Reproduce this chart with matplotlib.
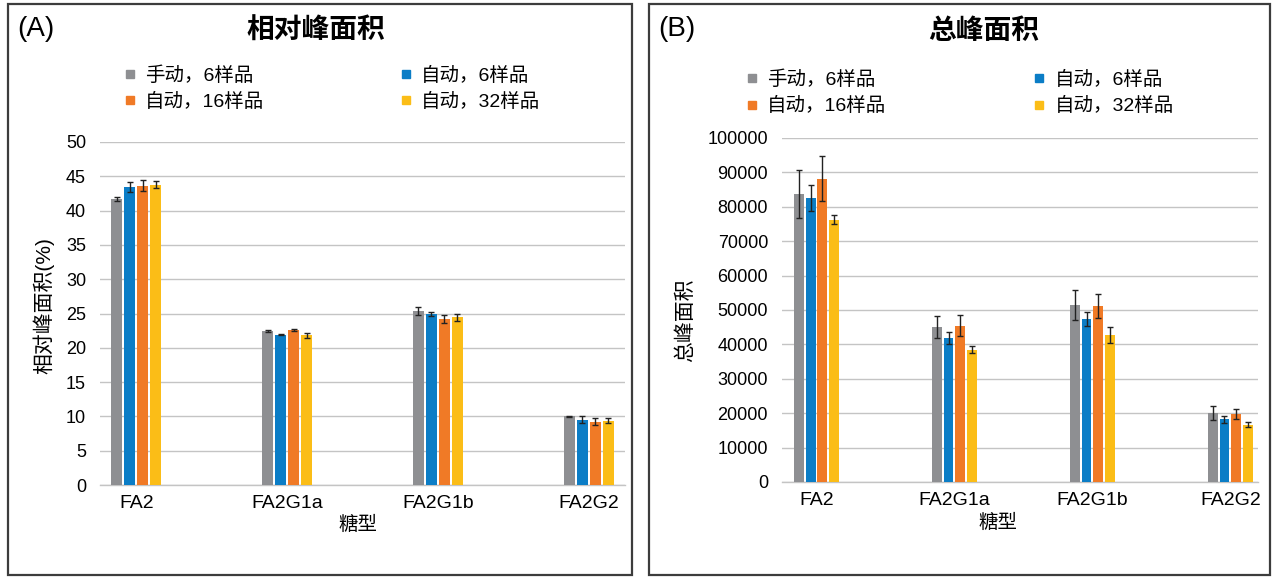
import numpy as np
import matplotlib.pyplot as plt
from matplotlib.lines import Line2D
from matplotlib.patches import Rectangle

plt.rcParams['font.family'] = ['Liberation Sans', 'Noto Sans CJK SC']
plt.rcParams['axes.unicode_minus'] = False

glycans = ['FA2', 'FA2G1a', 'FA2G1b', 'FA2G2']
series = ['手动，6样品', '自动，6样品', '自动，16样品', '自动，32样品']
colors = ['#8e8f92', '#0b7dc6', '#f07a26', '#fbbd17']

# relative peak area (%)
rel_mean = {
    '手动，6样品': [41.65, 22.45, 25.36, 10.0],
    '自动，6样品': [43.4, 21.9, 24.95, 9.5],
    '自动，16样品': [43.6, 22.6, 24.2, 9.25],
    '自动，32样品': [43.8, 21.8, 24.45, 9.4],
}
rel_err = {
    '手动，6样品': [0.3, 0.1, 0.6, 0.1],
    '自动，6样品': [0.7, 0.1, 0.3, 0.5],
    '自动，16样品': [0.8, 0.2, 0.6, 0.5],
    '自动，32样品': [0.5, 0.35, 0.5, 0.3],
}

# total peak area
tot_mean = {
    '手动，6样品': [83800, 45060, 51450, 20060],
    '自动，6样品': [82650, 41860, 47380, 18200],
    '自动，16样品': [88170, 45440, 51050, 19850],
    '自动，32样品': [76250, 38460, 42730, 16660],
}
tot_err = {
    '手动，6样品': [7000, 3200, 4250, 2050],
    '自动，6样品': [3800, 1650, 1950, 1000],
    '自动，16样品': [6600, 3100, 3500, 1500],
    '自动，32样品': [1350, 1050, 2300, 700],
}

W, H = 1276, 577
fig = plt.figure(figsize=(W / 100, H / 100), dpi=100)


def fx(px):
    return px / W


def fy(py):
    return 1 - py / H


def draw_panel(rect, means, errs, ylim, yticks, ylabel, title, tag,
               box, legend_xy, colspace, title_xy, tag_xy, ylabel_xy,
               xlabel_xy, xlim):
    x0, y0, x1, y1 = rect
    ax = fig.add_axes([fx(x0), fy(y1), fx(x1 - x0), (y1 - y0) / H])
    x = np.arange(len(glycans))
    pitch = 0.086
    for i, s in enumerate(series):
        ax.bar(x + (i - 1.5) * pitch, means[s], width=0.072, color=colors[i],
               yerr=errs[s], capsize=2.5,
               error_kw=dict(ecolor='#222222', elinewidth=1, capthick=1),
               zorder=3)
    ax.set_ylim(*ylim)
    ax.set_yticks(yticks)
    ax.set_xlim(*xlim)
    ax.set_xticks(x)
    ax.set_xticklabels(glycans, fontsize=14)
    ax.tick_params(axis='y', labelsize=13, length=0, pad=10)
    ax.tick_params(axis='x', length=0, pad=7)
    ax.grid(axis='y', color='#c4c4c4', linewidth=1, zorder=0)
    for sp in ['top', 'right', 'left']:
        ax.spines[sp].set_visible(False)
    ax.spines['bottom'].set_color('#c4c4c4')
    ax.spines['bottom'].set_linewidth(1)

    # outer frame of the panel
    bx0, by0, bx1, by1 = box
    fig.patches.append(Rectangle((fx(bx0), fy(by1)), fx(bx1 - bx0), (by1 - by0) / H,
                                 transform=fig.transFigure, fill=False,
                                 edgecolor='#3c3c3c', linewidth=1.6))

    fig.text(fx(title_xy[0]), fy(title_xy[1]), title, fontsize=20,
             fontweight='bold', ha='center', va='center')
    fig.text(fx(tag_xy[0]), fy(tag_xy[1]), tag, fontsize=20,
             ha='left', va='center')
    fig.text(fx(ylabel_xy[0]), fy(ylabel_xy[1]), ylabel, fontsize=15,
             rotation=90, ha='center', va='center')
    fig.text(fx(xlabel_xy[0]), fy(xlabel_xy[1]), '糖型', fontsize=14,
             ha='center', va='center')

    order = [0, 2, 1, 3]
    handles = [Line2D([], [], marker='s', linestyle='none', markersize=6,
                      color=colors[i]) for i in order]
    labels = [series[i] for i in order]
    fig.legend(handles, labels, ncol=2, frameon=False, fontsize=14,
               loc='center left', borderpad=0, borderaxespad=0,
               bbox_to_anchor=(fx(legend_xy[0]), fy(legend_xy[1])),
               handletextpad=0.4, handlelength=0.8, columnspacing=colspace,
               labelspacing=0.42)
    return ax


draw_panel((100, 142, 625, 485), rel_mean, rel_err, (0, 50), range(0, 51, 5),
           '相对峰面积(%)', '相对峰面积', '(A)',
           (8, 4, 632, 575), (122, 88.5), 6.85, (316, 32), (17, 29), (44, 306),
           (358, 525), (-0.24, 3.24))

draw_panel((782, 138, 1258, 482), tot_mean, tot_err, (0, 100000),
           range(0, 100001, 10000),
           '总峰面积', '总峰面积', '(B)',
           (649, 4, 1270, 575), (744, 93), 7.45, (984, 32), (658, 29), (685, 320),
           (998, 523), (-0.25, 3.2))

fig.savefig('out.png', dpi=100)
